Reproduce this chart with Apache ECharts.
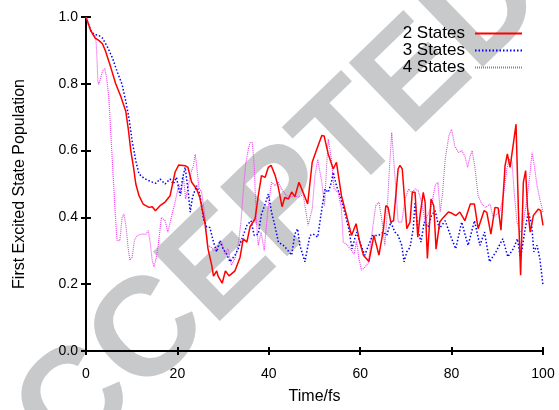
<!DOCTYPE html>
<html>
<head>
<meta charset="utf-8">
<script src="https://cdn.jsdelivr.net/npm/echarts@6/dist/echarts.min.js"></script>
<style>html,body{margin:0;padding:0;background:#fff}#c{width:559px;height:410px}</style>
</head>
<body>
<div id="c"></div>
<script>
// ---- data ----
const xTicks = [0, 20, 40, 60, 80, 100];
const yTicks = [0.0, 0.2, 0.4, 0.6, 0.8, 1.0];
const seriesNames = ["2 States", "3 States", "4 States"];

const t2 = [0,1,2,2.8,3.6,4.3,5.4,6.5,7.6,8.7,9.3,9.8,10.4,10.9,11.6,12.5,13.8,14.5,15.2,16.2,17.3,18.4,19.5,20.3,21.7,22.3,23.1,24.2,24.9,26,26.7,27.5,27.9,28.6,28.9,29.8,30.5,31.3,32.6,33.7,34.4,35.2,35.9,37,37.7,38.4,39.2,39.9,40.5,41.4,42,42.9,43.5,44.3,45,45.7,46.6,47.5,48.5,49.5,50.5,51.6,52.1,53,54.1,54.8,55.9,57,58.1,59.1,59.9,60.7,61.9,63,64.1,65.1,65.6,66.1,66.7,67.3,68.3,68.7,69.2,70.2,70.9,71.4,72,72.6,73.1,73.8,74.2,74.7,75.5,76.1,76.6,77.4,78.2,79.3,80,80.9,81.8,82.9,84.1,85,85.8,87.1,87.7,88.6,89.5,90.2,90.8,91.7,92.2,92.8,93.2,94.1,94.6,95.1,95.7,96.2,96.6,97.2,97.9,99,99.5,100];
const v2 = [1.0,0.96,0.937,0.93,0.92,0.897,0.85,0.80,0.763,0.718,0.66,0.60,0.55,0.50,0.465,0.44,0.43,0.432,0.42,0.435,0.446,0.465,0.536,0.557,0.555,0.55,0.506,0.485,0.46,0.387,0.306,0.257,0.224,0.24,0.224,0.203,0.24,0.225,0.24,0.28,0.336,0.326,0.372,0.396,0.465,0.525,0.52,0.55,0.556,0.525,0.495,0.432,0.46,0.455,0.476,0.462,0.505,0.475,0.44,0.565,0.604,0.645,0.644,0.59,0.545,0.565,0.465,0.406,0.346,0.381,0.326,0.287,0.268,0.346,0.287,0.366,0.435,0.43,0.386,0.39,0.545,0.556,0.545,0.366,0.386,0.475,0.475,0.341,0.406,0.475,0.446,0.277,0.455,0.435,0.305,0.386,0.40,0.416,0.413,0.405,0.416,0.39,0.44,0.44,0.366,0.42,0.415,0.35,0.43,0.428,0.362,0.555,0.59,0.55,0.55,0.679,0.43,0.227,0.505,0.54,0.43,0.356,0.406,0.425,0.42,0.376];

const t3 = [0,1,1.75,2.8,3.6,4.7,5.8,6.8,7.9,8.7,9.4,10.1,10.9,11.6,12.7,14.2,15.3,16.2,17.3,18.4,19.1,19.8,20.6,21.1,21.7,22.3,22.8,23.3,24.2,24.9,25.7,26.4,27.1,27.9,28.6,29.3,30,30.8,31.5,32.6,33.3,34.4,35.2,36.1,36.8,37.7,38.4,39.2,39.9,40.6,41.4,42.1,43.2,43.9,45,45.7,46.3,46.8,47.9,49,49.7,50.7,51.6,52.3,53,53.7,54.1,54.8,55.6,56.7,57.5,58.2,59.2,59.9,61,61.8,62.7,64,65.1,65.8,66.7,67.6,68.3,69.1,69.6,70.2,70.9,71.6,72,72.6,73.3,74,74.9,75.6,76.4,77.3,78.6,79.9,80.9,82.2,83.6,85,86.2,87.2,88.3,89.7,91.2,92.3,93.5,94.4,95.1,96.1,96.8,97.5,98,98.7,99.3,100];
const v3 = [1.0,0.96,0.948,0.945,0.937,0.91,0.877,0.837,0.798,0.748,0.698,0.629,0.569,0.53,0.517,0.507,0.502,0.515,0.50,0.515,0.50,0.52,0.465,0.515,0.55,0.485,0.416,0.46,0.495,0.47,0.396,0.371,0.37,0.326,0.297,0.331,0.306,0.29,0.267,0.287,0.306,0.346,0.376,0.39,0.346,0.35,0.41,0.44,0.47,0.416,0.371,0.326,0.316,0.306,0.287,0.35,0.366,0.316,0.267,0.346,0.35,0.341,0.425,0.485,0.475,0.505,0.535,0.495,0.465,0.41,0.366,0.306,0.356,0.326,0.287,0.316,0.346,0.346,0.356,0.346,0.386,0.356,0.346,0.316,0.267,0.297,0.31,0.366,0.446,0.366,0.326,0.386,0.371,0.406,0.42,0.366,0.39,0.34,0.306,0.386,0.316,0.39,0.316,0.356,0.267,0.297,0.336,0.282,0.306,0.336,0.277,0.366,0.416,0.38,0.297,0.316,0.277,0.197];

const t4 = [0,1.4,2.1,2.3,2.6,2.8,3.2,3.6,4.1,4.5,5,5.4,6,6.5,6.8,7.4,7.9,8.3,8.7,9.2,9.6,10.1,10.6,11.2,12.3,13.1,13.6,14,14.5,14.9,15.4,15.8,16.5,17.3,17.9,18.6,19.3,19.8,20.3,20.8,21.3,21.8,22.4,23,23.5,23.9,24.2,24.7,25.3,26,26.6,27.4,28.1,28.8,29.7,30.4,31.1,31.8,32.6,33.3,33.9,34.4,34.9,35.5,35.9,36.4,36.8,37.3,37.7,38.3,39,39.5,39.9,40.6,41.4,42.1,43,43.9,45,45.7,46.6,47.5,48.6,49.5,50.1,50.7,51.6,52.2,52.7,53,53.7,54.3,55.2,55.9,56.3,57,57.8,58.7,59.2,59.7,60.3,61,61.8,62.7,63.4,64.1,64.8,65.4,65.8,66.3,66.9,67.2,67.8,68.3,69.1,69.8,70.6,71.3,72,72.7,73.4,74.2,74.9,75.6,76.4,77,77.5,78,78.6,79.4,80,80.7,81.5,82.2,82.9,83.5,84,84.5,85.1,85.8,86.6,87.4,88.4,89.1,89.9,90.6,91.3,92.1,92.6,93.2,93.7,94.3,94.9,95.4,95.9,96.5,97.1,97.6,98.1,98.7,99.3,100];
const v4 = [1.0,0.95,0.94,0.91,0.807,0.798,0.80,0.837,0.847,0.818,0.758,0.659,0.51,0.39,0.331,0.33,0.40,0.41,0.38,0.311,0.272,0.28,0.331,0.346,0.35,0.35,0.361,0.33,0.27,0.252,0.282,0.316,0.40,0.39,0.356,0.396,0.435,0.465,0.50,0.47,0.525,0.455,0.495,0.535,0.555,0.589,0.555,0.49,0.475,0.406,0.316,0.31,0.30,0.31,0.326,0.29,0.306,0.257,0.277,0.316,0.386,0.475,0.555,0.604,0.624,0.624,0.555,0.386,0.316,0.356,0.301,0.38,0.435,0.505,0.495,0.505,0.48,0.465,0.46,0.465,0.46,0.47,0.376,0.425,0.525,0.574,0.505,0.435,0.565,0.634,0.574,0.485,0.475,0.425,0.326,0.32,0.306,0.29,0.33,0.277,0.242,0.25,0.265,0.366,0.435,0.446,0.386,0.316,0.39,0.525,0.654,0.654,0.485,0.386,0.386,0.455,0.485,0.475,0.485,0.48,0.446,0.39,0.41,0.435,0.495,0.505,0.416,0.47,0.574,0.644,0.664,0.614,0.594,0.60,0.584,0.55,0.58,0.60,0.55,0.465,0.44,0.43,0.44,0.40,0.41,0.42,0.465,0.545,0.574,0.57,0.475,0.386,0.356,0.36,0.406,0.455,0.525,0.594,0.555,0.495,0.455,0.416];

function pairs(t, v) { return t.map((x, i) => [x, v[i]]); }

const FONT = "Liberation Sans, Arial, Helvetica, sans-serif";
const chart = echarts.init(document.getElementById('c'), null, {renderer: 'canvas'});

const axisLine = {show: true, lineStyle: {color: '#000', width: 2}};
const tickStyle = {color: '#000', width: 2};
chart.setOption({
  animation: false,
  backgroundColor: '#fff',
  textStyle: {fontFamily: FONT},
  graphic: [{
    type: 'text', z: -10, silent: true,
    x: 245, y: 243, rotation: 44 * Math.PI / 180,
    style: {text: 'ACCEPTED', font: 'bold 140px ' + FONT, fill: '#c8c9ca',
            textAlign: 'center', textVerticalAlign: 'middle'}
  }],
  grid: {left: 86, right: 16, top: 17, bottom: 57, containLabel: false},
  legend: {
    orient: 'vertical', right: 31, top: 20, align: 'right',
    itemWidth: 47, itemHeight: 8, itemGap: 0,
    itemStyle: {opacity: 0, borderWidth: 0},
    textStyle: {fontSize: 17, lineHeight: 16.5, color: '#000', fontFamily: FONT, padding: [0, 5, 0, 0]},
    data: seriesNames.map(n => ({name: n}))
  },
  xAxis: [{
    type: 'value', min: 0, max: 100, interval: 20, position: 'bottom',
    name: 'Time/fs', nameLocation: 'middle', nameGap: 38,
    nameTextStyle: {fontSize: 16, color: '#000', fontFamily: FONT},
    axisLine: axisLine, axisTick: {show: true, inside: false, length: 4, lineStyle: tickStyle},
    axisLabel: {fontSize: 14, color: '#000', margin: 16, formatter: v => xTicks.includes(v) ? String(v) : ''},
    splitLine: {show: false}
  }, {
    type: 'value', min: 0, max: 100, interval: 20, position: 'top',
    axisLine: axisLine, axisTick: {show: true, inside: false, length: 4, lineStyle: tickStyle},
    axisLabel: {show: false}, splitLine: {show: false}
  }],
  yAxis: [{
    type: 'value', min: 0, max: 1, interval: 0.2, position: 'left',
    name: 'First Excited State Population', nameLocation: 'middle', nameGap: 58, nameRotate: 90,
    nameTextStyle: {fontSize: 16, color: '#000', fontFamily: FONT},
    axisLine: axisLine, axisTick: {show: true, inside: true, length: 5, lineStyle: tickStyle},
    axisLabel: {fontSize: 14, color: '#000', margin: 8, formatter: v => v.toFixed(1)},
    splitLine: {show: false}
  }, {
    type: 'value', min: 0, max: 1, interval: 0.2, position: 'right',
    axisLine: axisLine, axisTick: {show: true, inside: true, length: 5, lineStyle: tickStyle},
    axisLabel: {show: false}, splitLine: {show: false}
  }],
  series: [
    {name: seriesNames[0], type: 'line', data: pairs(t2, v2), symbol: 'none', z: 5,
     color: '#ff0000', lineStyle: {color: '#ff0000', width: 1.5, type: 'solid'}},
    {name: seriesNames[1], type: 'line', data: pairs(t3, v3), symbol: 'none', z: 4,
     color: '#0000ff', lineStyle: {color: '#0000ff', width: 1.5, type: [1.5, 2]}},
    {name: seriesNames[2], type: 'line', data: pairs(t4, v4), symbol: 'none', z: 3,
     color: '#ff00ff', lineStyle: {color: '#ec3cec', width: 1.1, type: [1, 1]}}
  ]
});
</script>
</body>
</html>
